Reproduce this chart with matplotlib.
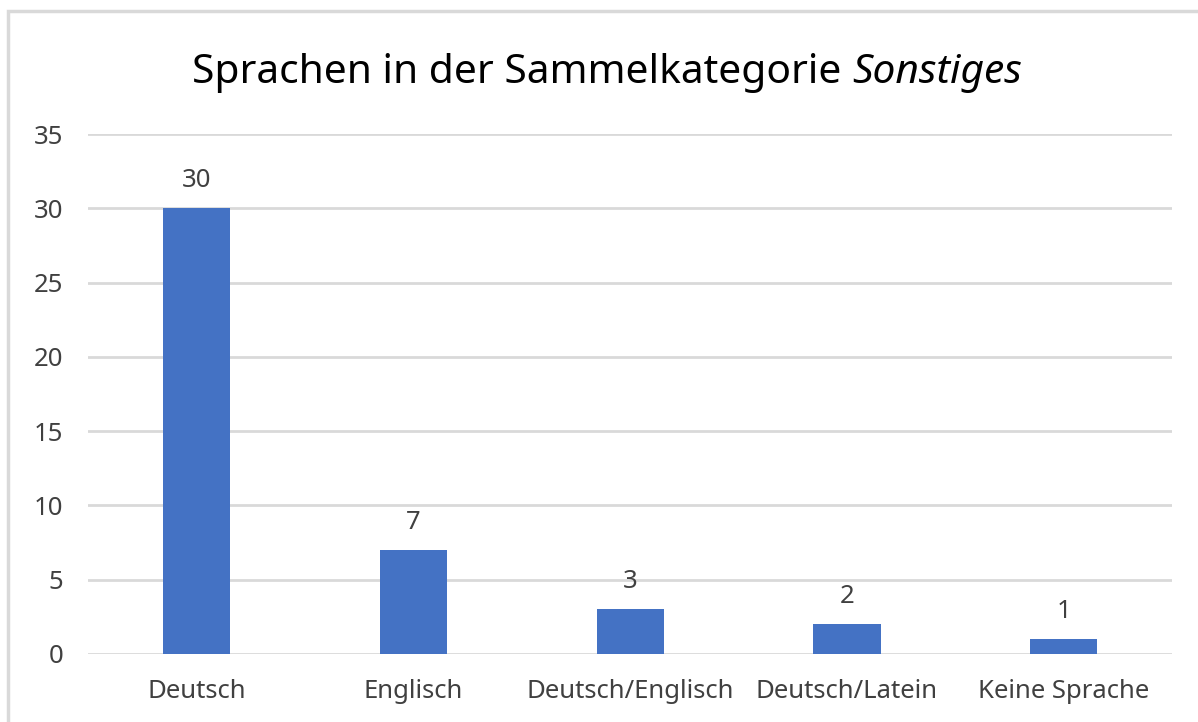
import matplotlib.pyplot as plt
from matplotlib.patches import Rectangle

categories = ['Deutsch', 'Englisch', 'Deutsch/Englisch', 'Deutsch/Latein', 'Keine Sprache']
counts = [30, 7, 3, 2, 1]
yticks = [0, 5, 10, 15, 20, 25, 30, 35]

plt.rcParams['font.family'] = ['Noto Sans', 'DejaVu Sans']
text_color = '#404040'
bar_color = '#4472C4'
grid_color = '#D9D9D9'

fig = plt.figure(figsize=(11.98, 7.22), dpi=100)
ax = fig.add_axes([0.0735, 0.0942, 0.905, 0.7202])

x = range(len(categories))
bars = ax.bar(x, counts, width=0.31, color=bar_color, zorder=3)
ax.bar_label(bars, labels=[str(c) for c in counts], padding=11,
             fontsize=18.5, color=text_color)

ax.set_xlim(-0.5, len(categories) - 0.5)
ax.set_ylim(0, 35)
ax.set_yticks(yticks)
ax.set_xticks(list(x))
ax.set_xticklabels(categories)
ax.tick_params(axis='both', length=0, labelsize=18.5, labelcolor=text_color)
ax.tick_params(axis='y', pad=18)
ax.tick_params(axis='x', pad=18)
ax.yaxis.grid(True, color=grid_color, linewidth=2, zorder=0)
for s in ax.spines.values():
    s.set_visible(False)

# title: upright part + italic part, centred together
t1 = fig.text(0, 0.899, 'Sprachen in der Sammelkategorie ', ha='left', va='center',
              fontsize=29.3, color='black')
t2 = fig.text(0, 0.899, 'Sonstiges', ha='left', va='center',
              fontsize=29.3, color='black', style='italic')
fig.canvas.draw()
r = fig.canvas.get_renderer()
w1 = t1.get_window_extent(r).width / fig.bbox.width
w2 = t2.get_window_extent(r).width / fig.bbox.width
x0 = 0.507 - (w1 + w2) / 2
t1.set_x(x0)
t2.set_x(x0 + w1)

# outer chart border (light grey), only top/left visible in the crop
fig.patches.append(Rectangle((8 / 1198, -0.05), 1.2, 1 - 11 / 722 + 0.05,
                             transform=fig.transFigure, fill=False,
                             edgecolor='#D9D9D9', linewidth=2.5))

fig.savefig('out.png', dpi=100)
